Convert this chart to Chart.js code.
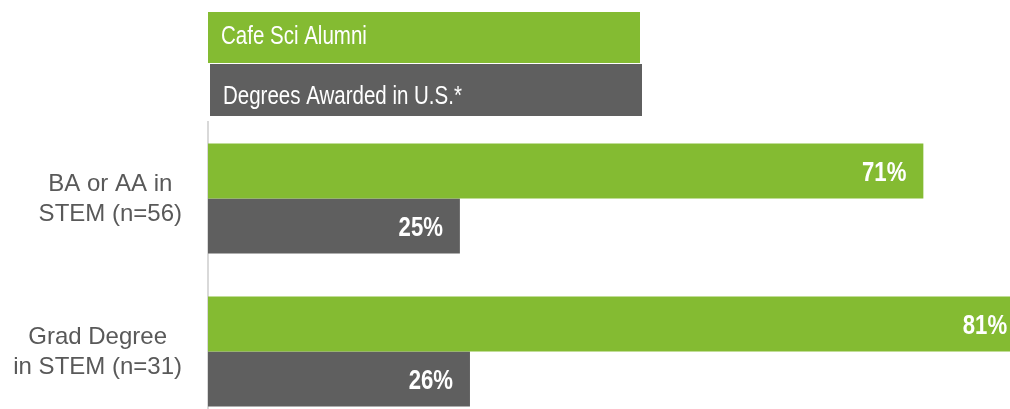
<!DOCTYPE html>
<html>
<head>
<meta charset="utf-8">
<script src="https://cdn.jsdelivr.net/npm/chart.js@4.4.1/dist/chart.umd.min.js"></script>
<style>
    html, body { margin: 0; padding: 0; background: #ffffff; overflow: hidden; }
    /* taller than the window: the lower half of the last category falls outside the view */
    #wrap { position: relative; width: 1010px; height: 428px; }
</style>
</head>
<body>
<div id="wrap"><canvas id="myChart"></canvas></div>
<script>
    const categories = [['BA or AA in', 'STEM (n=56)'], ['Grad Degree', 'in STEM (n=31)']];
    const seriesNames = ['Cafe Sci Alumni', 'Degrees Awarded in U.S.*'];
    const alumniValues = [71, 81];
    const usDegreeValues = [25, 26];
    const seriesColors = ['#84bb32', '#5f5f5f'];

    // Arial Narrow look: Liberation Sans squeezed sideways
    const NARROW = 0.82;
    const FONT = '"Liberation Sans", Arial, sans-serif';

    function narrowText(ctx, text, x, y, font, align) {
        ctx.save();
        ctx.font = font;
        ctx.fillStyle = '#ffffff';
        ctx.textAlign = align;
        ctx.textBaseline = 'alphabetic';
        ctx.translate(x, y);
        ctx.scale(NARROW, 1);
        ctx.fillText(text, 0, 0);
        ctx.restore();
    }

    // legend drawn as two wide boxes above the plot
    const boxLegend = {
        id: 'boxLegend',
        afterDraw(chart) {
            const ctx = chart.ctx;
            const boxes = [
                { x: 208, y: 12, w: 432, h: 51, base: 44 },
                { x: 210, y: 64, w: 432, h: 52, base: 104 }
            ];
            chart.data.datasets.forEach(function (ds, i) {
                const b = boxes[i];
                ctx.save();
                ctx.fillStyle = ds.backgroundColor;
                ctx.fillRect(b.x, b.y, b.w, b.h);
                ctx.restore();
                narrowText(ctx, ds.label, b.x + 13, b.base, '25px ' + FONT, 'left');
            });
        }
    };

    // category labels: each block centred on its own widest line, blocks flush at x=182
    const categoryLabels = {
        id: 'categoryLabels',
        afterDraw(chart) {
            const ctx = chart.ctx;
            const yScale = chart.scales.y;
            ctx.save();
            ctx.font = '24px ' + FONT;
            ctx.fillStyle = '#595959';
            ctx.textAlign = 'center';
            ctx.textBaseline = 'alphabetic';
            chart.data.labels.forEach(function (lines, i) {
                const yc = yScale.getPixelForTick(i);
                const widest = Math.max.apply(null, lines.map(l => ctx.measureText(l).width));
                const xc = yScale.right - 26 - widest / 2;
                lines.forEach(function (line, k) {
                    ctx.fillText(line, xc, yc + (k - (lines.length - 1) / 2) * 30 + 7.5);
                });
            });
            ctx.restore();
        }
    };

    const valueLabels = {
        id: 'valueLabels',
        afterDatasetsDraw(chart) {
            const ctx = chart.ctx;
            chart.data.datasets.forEach(function (ds, i) {
                const meta = chart.getDatasetMeta(i);
                meta.data.forEach(function (bar, j) {
                    narrowText(ctx, ds.data[j] + '%', bar.x - 17, bar.y + 10, 'bold 27px ' + FONT, 'right');
                });
            });
        }
    };

    const config = {
        type: 'bar',
        data: {
            labels: categories,
            datasets: [
                { label: seriesNames[0], data: alumniValues, backgroundColor: seriesColors[0] },
                { label: seriesNames[1], data: usDegreeValues, backgroundColor: seriesColors[1] }
            ]
        },
        options: {
            indexAxis: 'y',
            responsive: true,
            maintainAspectRatio: false,
            devicePixelRatio: 1,
            animation: false,
            layout: { padding: { top: 122, left: 0, right: 0, bottom: 0 } },
            datasets: {
                bar: { barPercentage: 1, categoryPercentage: 0.72, borderWidth: 0 }
            },
            plugins: {
                legend: { display: false },
                tooltip: { enabled: false }
            },
            scales: {
                x: {
                    display: false,
                    min: 0,
                    max: 79.6
                },
                y: {
                    grid: { display: false, drawTicks: false },
                    border: { display: true, color: '#d9d9d9', width: 2 },
                    afterFit: function (scale) { scale.width = 208; },
                    ticks: { display: false }
                }
            }
        },
        plugins: [boxLegend, categoryLabels, valueLabels]
    };

    new Chart(document.getElementById('myChart').getContext('2d'), config);
</script>
</body>
</html>
